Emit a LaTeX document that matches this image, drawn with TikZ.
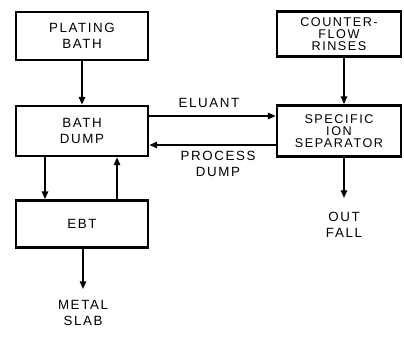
\documentclass[tikz,border=0pt]{standalone}
\usepackage{fontspec}
\setmainfont{Liberation Sans}
\newfontfamily\lettering[LetterSpace=12]{Liberation Sans}
\usetikzlibrary{arrows.meta,positioning,calc}
\tikzset{
  procbox/.style={draw=black, line width=1.8pt, minimum width=3.3cm, align=center, font=\lettering\fontsize{9.5}{11.5}\selectfont, inner sep=0pt},
  tightbox/.style={procbox, font=\lettering\fontsize{9}{8.6}\selectfont},
  flow/.style={line width=1.2pt, -{Triangle[width=4.5pt,length=5.5pt]}},
  lbl/.style={align=center, font=\lettering\fontsize{9.5}{11.5}\selectfont, inner sep=0pt}
}
\begin{document}
\begin{tikzpicture}[x=0.025cm, y=-0.025cm]
  \useasboundingbox (0,0) rectangle (404,337);

  \node[procbox, minimum height=1.2cm] (plating) at (82,36) {PLATING\\BATH};
  \node[procbox, minimum height=1.25cm] (bathdump) at (82,131) {BATH\\DUMP};
  \node[procbox, minimum height=1.18cm] (ebt) at (82,224) {EBT};
  \node[tightbox, minimum width=3.1cm, minimum height=1.13cm] (rinses) at (339,34) {COUNTER-\\FLOW\\RINSES};
  \node[tightbox, minimum width=3.1cm, minimum height=1.28cm] (separator) at (339,131) {SPECIFIC\\ION\\SEPARATOR};

  \coordinate (outfall) at (344,198);
  \coordinate (slab) at (83,289);

  \draw[flow] (plating) -- (bathdump);
  \draw[flow] (rinses.south -| outfall) -- (separator.north -| outfall);
  \draw[flow] ([yshift=0.375cm]bathdump.east) -- ([yshift=0.375cm]separator.west);
  \draw[flow] ([yshift=-0.35cm]separator.west) -- ([yshift=-0.35cm]bathdump.east);
  \draw[flow] ([xshift=-0.925cm]bathdump.south) -- ([xshift=-0.925cm]ebt.north);
  \draw[flow] ([xshift=0.875cm]ebt.north) -- ([xshift=0.875cm]bathdump.south);
  \draw[flow] (ebt.south -| slab) -- (slab);
  \draw[flow] (separator.south -| outfall) -- (outfall);

  \node[lbl] (eluant) at (209,103) {ELUANT};
  \node[lbl] (procdump) at (218,164) {PROCESS\\DUMP};
  \node[lbl] (outtext) at (344,225) {OUT\\FALL};
  \node[lbl] (slabtext) at (83,313) {METAL\\SLAB};
\end{tikzpicture}
\end{document}
